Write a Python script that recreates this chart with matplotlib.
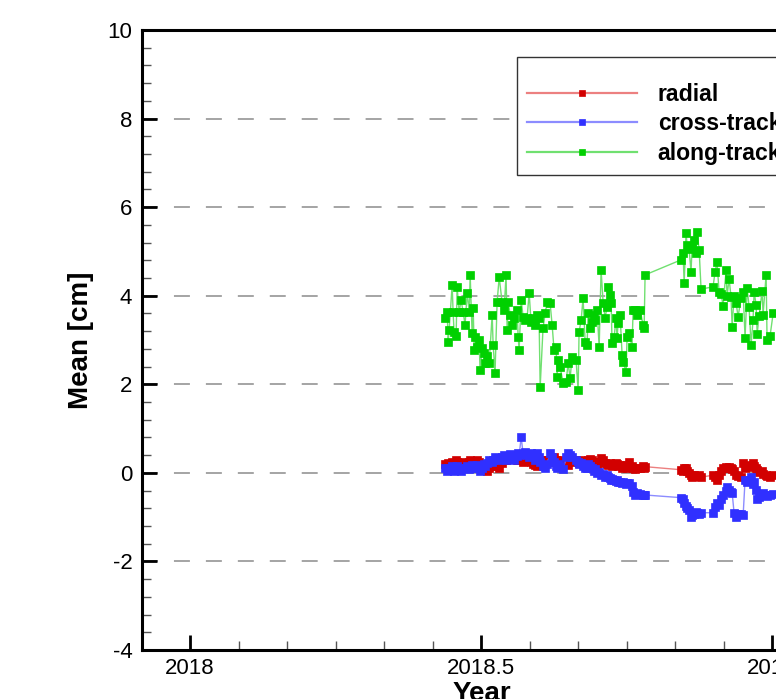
import matplotlib
matplotlib.use("Agg")
import matplotlib.pyplot as plt
from matplotlib.ticker import MultipleLocator, FuncFormatter
import numpy as np

plt.rcParams['font.family'] = ['Liberation Sans', 'DejaVu Sans']
plt.rcParams['axes.unicode_minus'] = False
plt.rcParams['lines.scale_dashes'] = False

# Epochs: day of year 2018
days = [160.0, 161.3, 161.9, 162.5, 164.4, 165.0, 165.6, 166.9, 167.5, 168.8,
        170.0, 171.3, 172.5, 173.8, 175.1, 175.7, 176.9, 177.6, 178.2, 178.8,
        180.1, 181.3, 181.9, 183.2, 184.5, 185.1, 186.3, 187.6, 189.5, 190.1,
        191.3, 192.6, 193.9, 195.7, 197.0, 198.2, 198.9, 199.5, 200.8, 202.0,
        203.3, 205.1, 205.8, 206.4, 207.7, 208.9, 210.1, 211.4, 212.7, 213.9,
        215.2, 216.4, 217.7, 218.9, 219.6, 221.4, 222.7, 224.0, 225.8, 227.1,
        228.3, 229.6, 230.2, 230.9, 232.1, 234.0, 235.9, 237.1, 238.4, 239.6,
        242.1, 243.4, 244.0, 245.3, 246.5, 247.8, 249.0, 249.7, 250.9, 252.2,
        253.4, 254.1, 255.3, 256.6, 257.8, 259.1, 260.3, 261.6, 262.2, 263.5,
        264.1, 264.7, 266.0, 267.2, 267.8, 268.5, 269.7, 271.0, 271.6, 273.5,
        274.1, 275.4, 277.2, 277.9, 279.1, 280.4, 282.3, 284.1, 284.8, 285.4,
        308.0, 309.2, 309.9, 311.1, 311.7, 313.0, 314.2, 314.9, 316.1, 317.4,
        318.0, 319.3, 320.5, 328.0, 329.3, 330.5, 331.8, 333.1, 334.3, 336.2,
        336.8, 338.1, 339.3, 340.0, 341.2, 342.5, 343.7, 345.6, 346.9, 348.1,
        349.4, 350.6, 351.9, 353.1, 353.8, 355.0, 355.7, 356.9, 358.8, 359.4,
        361.3, 361.9, 363.8, 365.7]

radial = [0.20, 0.15, 0.22, 0.18, 0.25, 0.20, 0.22, 0.28, 0.25, 0.20,
          0.22, 0.25, 0.20, 0.18, 0.25, 0.30, 0.27, 0.25, 0.20, 0.22,
          0.30, 0.25, 0.18, 0.15, 0.10, 0.12, 0.05, 0.10, 0.15, 0.20,
          0.25, 0.15, 0.10, 0.22, 0.28, 0.30, 0.35, 0.32, 0.38, 0.40,
          0.35, 0.30, 0.28, 0.35, 0.30, 0.25, 0.30, 0.32, 0.28, 0.25,
          0.20, 0.18, 0.15, 0.20, 0.25, 0.22, 0.28, 0.30, 0.25, 0.32,
          0.35, 0.30, 0.22, 0.20, 0.29, 0.25, 0.22, 0.18, 0.25, 0.28,
          0.30, 0.25, 0.22, 0.28, 0.25, 0.20, 0.25, 0.30, 0.32, 0.28,
          0.25, 0.22, 0.20, 0.25, 0.34, 0.28, 0.22, 0.20, 0.18, 0.22,
          0.20, 0.15, 0.18, 0.23, 0.20, 0.15, 0.18, 0.12, 0.15, 0.18,
          0.12, 0.25, 0.15, 0.10, 0.08, 0.12, 0.10, 0.15, 0.12, 0.14,
          0.07, 0.05, 0.10, 0.11, 0.05, 0.00, -0.05, -0.09, -0.05, -0.08,
          -0.06, -0.05, -0.10, -0.05, -0.09, -0.16, -0.05, 0.05, 0.10, 0.14,
          0.10, 0.14, 0.12, 0.08, 0.05, -0.05, -0.08, -0.10, 0.23, 0.12,
          0.15, 0.14, 0.18, 0.23, 0.15, 0.12, 0.07, 0.02, 0.05, -0.02,
          -0.05, -0.08, -0.10, -0.05]

cross_track = [0.10, 0.05, 0.12, 0.08, 0.15, 0.10, 0.05, 0.12, 0.15, 0.08,
               0.05, 0.12, 0.10, 0.15, 0.08, 0.12, 0.18, 0.15, 0.10, 0.12,
               0.18, 0.10, 0.05, 0.12, 0.20, 0.15, 0.22, 0.28, 0.25, 0.30,
               0.35, 0.32, 0.28, 0.35, 0.40, 0.30, 0.38, 0.36, 0.42, 0.35,
               0.30, 0.38, 0.45, 0.40, 0.81, 0.42, 0.48, 0.40, 0.35, 0.45,
               0.38, 0.30, 0.45, 0.35, 0.25, 0.15, 0.10, 0.20, 0.45, 0.35,
               0.25, 0.15, 0.10, 0.20, 0.15, 0.08, 0.35, 0.45, 0.40, 0.35,
               0.30, 0.25, 0.20, 0.23, 0.15, 0.10, 0.12, 0.20, 0.15, 0.10,
               0.05, 0.08, 0.00, 0.02, -0.05, -0.02, -0.09, -0.05, -0.10, -0.12,
               -0.15, -0.13, -0.16, -0.18, -0.16, -0.20, -0.20, -0.22, -0.20, -0.25,
               -0.23, -0.23, -0.30, -0.43, -0.50, -0.45, -0.48, -0.50, -0.50, -0.50,
               -0.56, -0.60, -0.68, -0.75, -0.80, -0.84, -0.99, -0.95, -0.92, -0.88,
               -0.90, -0.92, -0.90, -0.90, -0.77, -0.68, -0.72, -0.60, -0.50, -0.40,
               -0.32, -0.38, -0.43, -0.45, -0.90, -0.99, -0.92, -0.92, -0.95, -0.16,
               -0.20, -0.15, -0.09, -0.25, -0.20, -0.38, -0.60, -0.55, -0.50, -0.45,
               -0.50, -0.52, -0.50, -0.48]

along_track = [3.50, 3.63, 2.96, 3.23, 4.24, 3.63, 3.18, 3.10, 4.20, 3.63,
               3.90, 3.63, 3.34, 4.06, 3.63, 4.47, 3.16, 3.72, 2.78, 3.07,
               2.85, 3.00, 2.32, 2.82, 2.70, 2.48, 2.65, 2.48, 3.57, 2.89,
               2.26, 3.86, 4.42, 3.86, 3.68, 4.47, 3.23, 3.86, 3.57, 3.34,
               3.50, 3.68, 3.07, 2.78, 3.90, 3.52, 3.45, 3.50, 4.06, 3.40,
               3.50, 3.34, 3.57, 3.50, 1.94, 3.27, 3.60, 3.86, 3.84, 3.34,
               2.78, 2.84, 2.17, 2.55, 2.39, 2.03, 2.05, 2.48, 2.14, 2.62,
               2.55, 1.87, 3.18, 3.45, 3.95, 2.96, 2.89, 3.61, 3.27, 3.41,
               3.57, 3.45, 3.68, 2.84, 4.58, 3.84, 3.50, 3.75, 4.20, 4.02,
               3.84, 2.93, 3.07, 3.50, 3.05, 3.39, 3.57, 2.66, 2.51, 2.28,
               3.07, 3.16, 2.84, 3.68, 3.68, 3.57, 3.68, 3.34, 3.27, 4.47,
               4.81, 4.97, 4.29, 5.42, 5.15, 5.05, 4.54, 5.10, 5.26, 4.97,
               5.44, 5.03, 4.15, 4.20, 4.54, 4.76, 4.09, 4.05, 3.77, 4.58,
               4.00, 4.38, 3.97, 3.30, 4.00, 3.84, 3.52, 3.95, 4.09, 3.05,
               4.18, 3.75, 2.89, 3.45, 4.09, 3.80, 3.14, 3.55, 4.11, 3.57,
               4.47, 3.00, 3.10, 3.60]

labels = ["radial", "cross-track", "along-track"]
series = [radial, cross_track, along_track]
marker_colors = ["#d20000", "#3030ff", "#00d000"]
line_colors = ["#ec8080", "#8c8cff", "#70e070"]

years = 2018 + np.array(days) / 365.0

W, H = 776, 699
fig = plt.figure(figsize=(W / 100, H / 100), dpi=100)
xmin, xmax = 2017.9175, 2019.085
px_per_year = 582.0
ax_left = 142 / W
ax_w = (xmax - xmin) * px_per_year / W
ax_bottom = (H - 650) / H
ax_h = 620 / H
ax = fig.add_axes([ax_left, ax_bottom, ax_w, ax_h])
ax.set_xlim(xmin, xmax)
ax.set_ylim(-4, 10)

for vals, lab, mc, lc in zip(series, labels, marker_colors, line_colors):
    ax.plot(years, vals, color=lc, lw=1.0, marker='s', ms=5.4,
            mfc=mc, mec=mc, mew=0.5, label=lab, zorder=3)

# grid dashed at major y ticks
for yv in [-2, 0, 2, 4, 6, 8]:
    ax.axhline(yv, color="#8c8c8c", lw=1.1, dashes=(11.5, 11.5), zorder=1)

ax.xaxis.set_major_locator(MultipleLocator(0.5))
ax.xaxis.set_minor_locator(MultipleLocator(1 / 12))
ax.yaxis.set_major_locator(MultipleLocator(2))
ax.yaxis.set_minor_locator(MultipleLocator(0.4))
ax.xaxis.set_major_formatter(FuncFormatter(lambda v, p: "%g" % round(v, 3)))
ax.yaxis.set_major_formatter(FuncFormatter(lambda v, p: "%d" % round(v)))

ax.tick_params(which='major', direction='in', length=11, width=2.0,
               labelsize=16, color='black')
ax.tick_params(which='minor', direction='in', length=6.5, width=1.0,
               color='#555555')
ax.tick_params(axis='x', which='major', pad=6)
ax.tick_params(axis='y', which='major', pad=7)

for s in ax.spines.values():
    s.set_linewidth(2.2)

ax.set_xlabel("Year", fontsize=20, fontweight='bold', labelpad=1)
ax.set_ylabel("Mean [cm]", fontsize=20, fontweight='bold', labelpad=10)

leg = ax.legend(loc='upper left', bbox_to_anchor=(517 / W, 1 - 57 / H),
                bbox_transform=fig.transFigure, borderaxespad=0,
                prop={'weight': 'bold', 'size': 16.6},
                handlelength=4.75, handletextpad=0.9, labelspacing=0.28,
                borderpad=0.45, numpoints=1, markerscale=0.75,
                fancybox=False, framealpha=1, edgecolor='#333333',
                title=' ', title_fontsize=6.5)
leg.get_frame().set_linewidth(1.0)
for ln in leg.get_lines():
    ln.set_linewidth(1.6)

fig.savefig("out.png", dpi=100)
